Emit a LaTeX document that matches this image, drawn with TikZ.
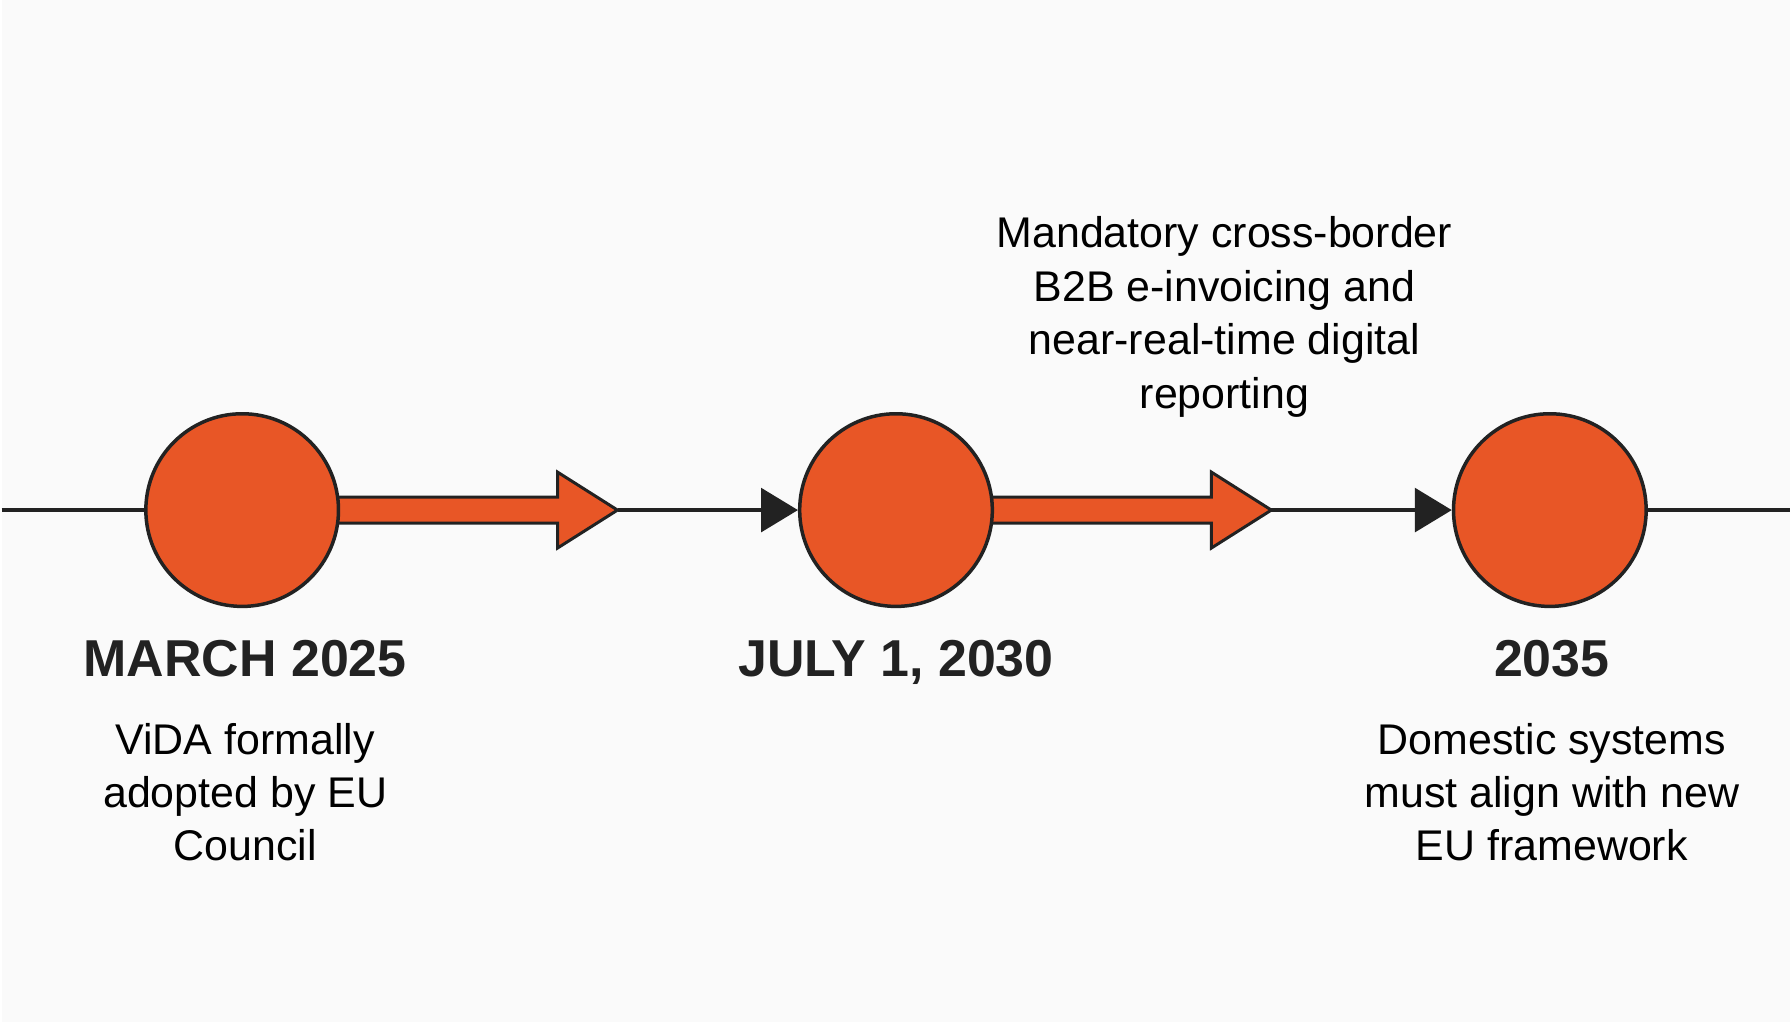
\documentclass[tikz,border=0pt]{standalone}
\usepackage{fontspec}
\setmainfont{Liberation Sans}
\usepackage{tikz}
\usetikzlibrary{arrows.meta}
\definecolor{vidaorange}{RGB}{232,86,38}
\definecolor{inkgray}{RGB}{34,34,34}
\definecolor{paper}{RGB}{250,250,250}

\begin{document}
\begin{tikzpicture}[x=1pt,y=1pt,
    every node/.style={inner sep=0pt},
    milestone/.style={circle,draw=inkgray,line width=3.5pt,fill=vidaorange,minimum size=193pt},
    datelabel/.style={anchor=base,text=inkgray,font=\bfseries\fontsize{52}{60}\selectfont},
    notelabel/.style={anchor=north,align=center,text=black,font=\fontsize{43}{53.5}\selectfont},
    blockarrow/.style={draw=inkgray,line width=3pt,fill=vidaorange,line join=miter},
    timeline/.style={draw=inkgray,line width=3.2pt}]

\fill[paper] (0,0) rectangle (1792,1024);

\coordinate (c1) at (241,513);
\coordinate (c2) at (896,513);
\coordinate (c3) at (1551,513);
\coordinate (lft) at (0,513);
\coordinate (rgt) at (1792,513);

% block arrows between the milestones
\foreach \i in {1,2}
    \draw[blockarrow] (c\i) ++(92,13) -- ++(224,0) -- ++(0,25) -- ++(60,-38) coordinate (t\i)
        -- ++(-60,-38) -- ++(0,25) -- ++(-224,0) -- cycle;

\begin{scope}[every node/.style={milestone}]
    \node (m1) at (c1) {};
    \node (m2) at (c2) {};
    \node (m3) at (c3) {};
\end{scope}

\begin{scope}[>={Triangle[length=37pt 0,width=44pt 0]}]
    \draw[timeline] (lft) -- (m1.west);
    \draw[timeline,->] (t1) -- (m2.west);
    \draw[timeline,->] (t2) -- (m3.west);
    \draw[timeline] (m3.east) -- (rgt);
\end{scope}

\node[datelabel] (d1) at (244,346) {MARCH 2025};
\node[datelabel] (d2) at (896,346) {JULY 1, 2030};
\node[datelabel] (d3) at (1553,346) {2035};

\node[notelabel] (n1) at (244,300) {ViDA formally\\adopted by EU\\Council};
\node[notelabel] (n2) at (1225,807) {Mandatory cross-border\\B2B e-invoicing and\\near-real-time digital\\reporting};
\node[notelabel] (n3) at (1553,300) {Domestic systems\\must align with new\\EU framework};
\end{tikzpicture}
\end{document}
